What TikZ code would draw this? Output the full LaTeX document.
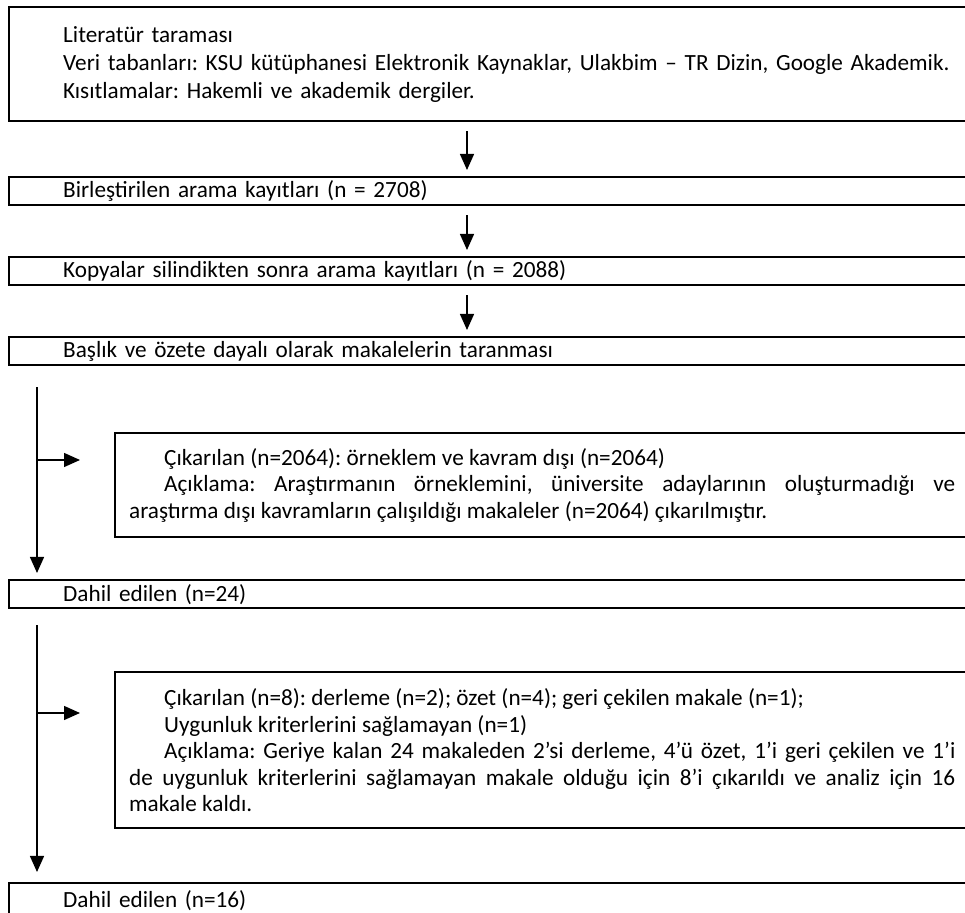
\documentclass[tikz,border=0pt]{standalone}
\usepackage{fontspec}
\setmainfont{Carlito}
\frenchspacing
\usetikzlibrary{arrows.meta}
\tikzset{
  stage/.style={draw, line width=1.2pt, anchor=north west, inner xsep=27pt, inner ysep=0pt,
    text width=460pt, align=left, minimum height=14pt, font=\fontsize{11.6}{13.25}\selectfont},
  note/.style={draw, line width=1.2pt, anchor=north west, inner xsep=7pt, inner ysep=0pt,
    text width=413pt, align=justify, font=\fontsize{11.6}{13.25}\selectfont},
  flow/.style={line width=0.7pt, -{Triangle[length=8pt,width=7pt]}},
}
\begin{document}
\begin{tikzpicture}[x=0.5pt, y=-0.5pt]
  \useasboundingbox (0,0) rectangle (965,913);
  \node[stage, minimum height=57pt, font=\fontsize{11.6}{14}\selectfont] (search) at (8,6)
    {Literatür taraması\\Veri tabanları: KSU kütüphanesi Elektronik Kaynaklar, Ulakbim – TR Dizin, Google Akademik.\\Kısıtlamalar: Hakemli ve akademik dergiler.\par\vspace*{8pt}};
  \node[stage] (merged) at (8,176) {Birleştirilen arama kayıtları (n = 2708)};
  \node[stage] (unique) at (8,256) {Kopyalar silindikten sonra arama kayıtları (n = 2088)};
  \node[stage] (screen) at (8,336) {Başlık ve özete dayalı olarak makalelerin taranması};
  \node[note, minimum height=52pt] (drop1) at (114,432)
    {\hspace*{17.5pt}Çıkarılan (n=2064): örneklem ve kavram dışı (n=2064)\\
     \hspace*{17.5pt}Açıklama: Araştırmanın örneklemini, üniversite adaylarının oluşturmadığı ve\linebreak araştırma dışı kavramların çalışıldığı makaleler (n=2064) çıkarılmıştır.};
  \node[stage] (kept1) at (8,579) {Dahil edilen (n=24)};
  \node[note, minimum height=78pt] (drop2) at (114,671)
    {\hspace*{17.5pt}Çıkarılan (n=8): derleme (n=2); özet (n=4); geri çekilen makale (n=1);\\
     \hspace*{17.5pt}Uygunluk kriterlerini sağlamayan (n=1)\\
     \hspace*{17.5pt}Açıklama: Geriye kalan 24 makaleden 2’si derleme, 4’ü özet, 1’i geri çekilen ve 1’i\linebreak de uygunluk kriterlerini sağlamayan makale olduğu için 8’i çıkarıldı ve analiz için 16\linebreak makale kaldı.};
  \node[stage, minimum height=17pt] (kept2) at (8,882) {Dahil edilen (n=16)};
  \coordinate (mid) at (467,0);
  \coordinate (rail) at (37,0);
  \coordinate (fork1) at (37,460);
  \coordinate (fork2) at (37,713);
  \foreach \a/\b in {search/merged, merged/unique, unique/screen}
    \draw[flow, shorten <=4.5pt, shorten >=3pt] (\a.south -| mid) -- (\b.north -| mid);
  \draw[flow, shorten <=10.5pt, shorten >=3pt] (screen.south -| rail) -- (kept1.north -| rail);
  \draw[flow, shorten <=8pt, shorten >=5pt] (kept1.south -| rail) -- (kept2.north -| rail);
  \draw[flow, shorten >=17pt] (fork1) -- (fork1 -| drop1.west);
  \draw[flow, shorten >=17pt] (fork2) -- (fork2 -| drop2.west);
\end{tikzpicture}
\end{document}
